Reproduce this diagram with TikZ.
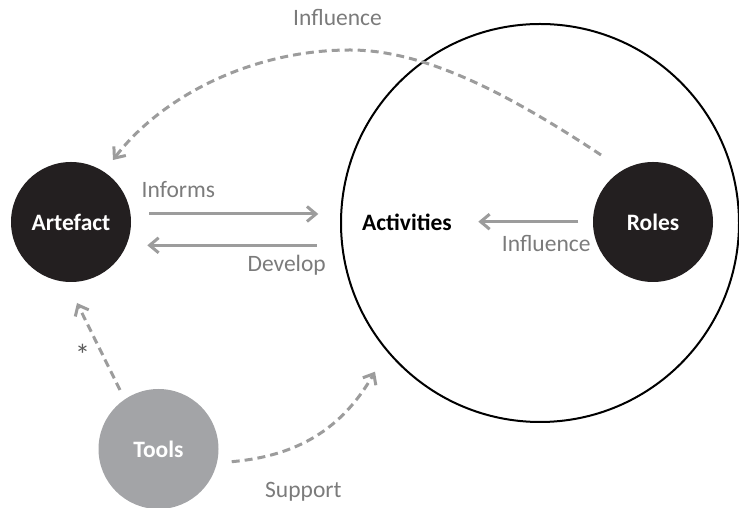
\documentclass[tikz,border=0pt]{standalone}
\usepackage{fontspec}
\setmainfont{Carlito}
\usetikzlibrary{arrows.meta}
\definecolor{nodedark}{HTML}{231F20}
\definecolor{toolgray}{HTML}{A3A4A7}
\definecolor{linegray}{HTML}{9C9C9C}
\definecolor{labelgray}{HTML}{7B7B7B}
\definecolor{stargray}{HTML}{5A5A5A}
\begin{document}
\begin{tikzpicture}[x=1pt,y=1pt,
  every node/.style={font=\fontsize{23.5}{28}\selectfont},
  bignode/.style={circle, minimum size=120pt, inner sep=0pt, font=\fontsize{23.5}{28}\selectfont\bfseries, text=white},
  darknode/.style={bignode, fill=nodedark},
  toolnode/.style={bignode, fill=toolgray},
  lbl/.style={text=labelgray, inner sep=0pt},
  arr/.style={draw=linegray, line width=3pt, -{Straight Barb[length=9pt,width=15pt]}},
  darr/.style={arr, dash pattern=on 8pt off 5pt},
]
\useasboundingbox (0,0) rectangle (739,508);
\node[draw, line width=2pt, circle, minimum size=398pt, inner sep=0pt] (ring) at (540,285) {};
\node[darknode] (art) at (71,286) {Artefact};
\node[darknode] (roles) at (653,286) {Roles};
\node[toolnode] (tools) at (158.5,59) {Tools};
\node[font=\fontsize{23.5}{28}\selectfont\bfseries, inner sep=0pt] (act) at (407,286) {Activities};

\node[lbl, anchor=base west] (linfl) at (293,482.5) {Influence};
\node[lbl, anchor=base west] (linforms) at (141.5,310) {Informs};
\node[lbl, anchor=base east] (ldev) at (326,236.3) {Develop};
\node[lbl, anchor=base west] (linfl2) at (501.7,256.3) {Influence};
\node[lbl, anchor=base west] (lsup) at (265,10) {Support};
\node[lbl, text=stargray, font=\fontsize{30}{34}\selectfont] (lstar) at (82.5,153) {*};

\coordinate (i1) at (149.3,294); \coordinate (i2) at (318.3,294);
\coordinate (d1) at (316.7,262.7); \coordinate (d2) at (147.3,262.7);
\coordinate (r1) at (578.3,286.3); \coordinate (r2) at (478.3,286.3);
\coordinate (t1) at (601,353); \coordinate (tm) at (350,458); \coordinate (t2) at (113,348);
\coordinate (ta1) at (120,118); \coordinate (ta2) at (77,205);
\coordinate (ts1) at (231.7,46.3); \coordinate (ts2) at (375,136.3);

\draw[arr] (i1) -- (i2);
\draw[arr] (d1) -- (d2);
\draw[arr] (r1) -- (r2);
\draw[darr] (t1) .. controls (500,420) and (420,458) .. (tm) .. controls (250,458) and (160,410) .. (t2);
\draw[darr] (ta1) -- (ta2);
\draw[darr] (ts1) to[out=5,in=-120] (ts2);
\end{tikzpicture}
\end{document}
